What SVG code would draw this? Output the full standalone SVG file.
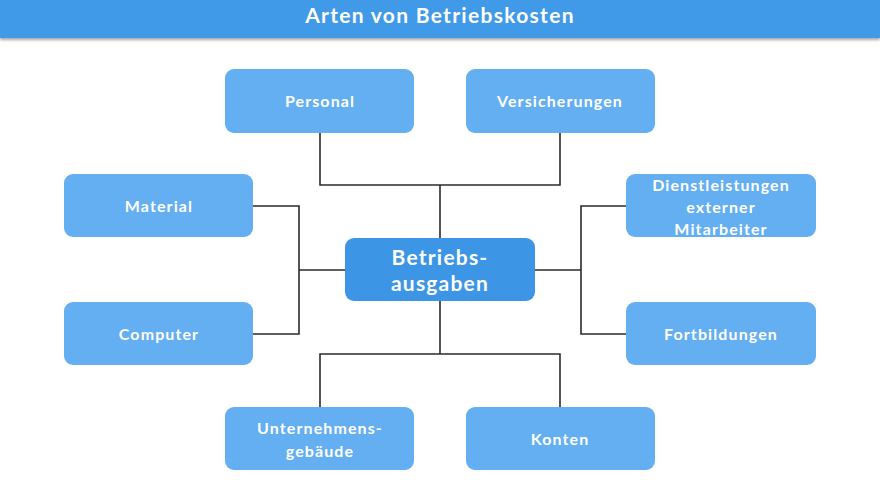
<svg xmlns="http://www.w3.org/2000/svg" width="880" height="480" viewBox="0 0 880 480">
<defs>
<style>
.node rect{fill:#64aef2}
.center rect{fill:#3d95e5}
.lbl{font-family:Lato,"Liberation Sans",sans-serif;font-weight:700;font-size:16px;fill:#ffffff;text-anchor:middle;letter-spacing:1.1px}
.clbl{font-size:21px;letter-spacing:1.2px}
.conn{fill:none;stroke:#2b2b2b;stroke-width:1.6}
.title{font-family:Lato,"Liberation Sans",sans-serif;font-weight:700;font-size:21px;fill:#ffffff;text-anchor:middle;letter-spacing:1.3px}
</style>
<filter id="sh" x="-5%" y="-50%" width="110%" height="200%">
<feDropShadow dx="0" dy="2" stdDeviation="1.5" flood-color="#000" flood-opacity="0.35"/>
</filter>
</defs>
<rect width="880" height="480" fill="#ffffff"/>
<g id="header">
<rect x="0" y="0" width="880" height="38" fill="#3f9ae8" filter="url(#sh)"/>
<text class="title" x="440" y="23">Arten von Betriebskosten</text>
</g>
<g id="connectors">
<path class="conn" d="M440 238 V185 M320 133 V185 H560 V133"/>
<path class="conn" d="M440 301 V354 M320 407 V354 H560 V407"/>
<path class="conn" d="M345 270 H299 M253 206 H299 V334 H253"/>
<path class="conn" d="M535 270 H581 M626 206 H581 V334 H626"/>
</g>
<g id="n-center" class="center">
<rect x="345" y="238" width="190" height="63" rx="9"/>
<text class="lbl clbl" x="440" y="265">Betriebs-</text>
<text class="lbl clbl" x="440" y="291">ausgaben</text>
</g>
<g id="n-personal" class="node">
<rect x="225" y="69" width="189" height="64" rx="9"/>
<text class="lbl" x="320" y="107">Personal</text>
</g>
<g id="n-versicherungen" class="node">
<rect x="466" y="69" width="189" height="64" rx="9"/>
<text class="lbl" x="560" y="107">Versicherungen</text>
</g>
<g id="n-material" class="node">
<rect x="64" y="174" width="189" height="63" rx="9"/>
<text class="lbl" x="159" y="212">Material</text>
</g>
<g id="n-computer" class="node">
<rect x="64" y="302" width="189" height="63" rx="9"/>
<text class="lbl" x="159" y="340">Computer</text>
</g>
<g id="n-dienstleistungen" class="node">
<rect x="626" y="174" width="190" height="63" rx="9"/>
<text class="lbl" x="721" y="191">Dienstleistungen</text>
<text class="lbl" x="721" y="213">externer</text>
<text class="lbl" x="721" y="235">Mitarbeiter</text>
</g>
<g id="n-fortbildungen" class="node">
<rect x="626" y="302" width="190" height="63" rx="9"/>
<text class="lbl" x="721" y="340">Fortbildungen</text>
</g>
<g id="n-unternehmensgebaeude" class="node">
<rect x="225" y="407" width="189" height="63" rx="9"/>
<text class="lbl" x="320" y="434">Unternehmens-</text>
<text class="lbl" x="320" y="457">gebäude</text>
</g>
<g id="n-konten" class="node">
<rect x="466" y="407" width="189" height="63" rx="9"/>
<text class="lbl" x="560" y="445">Konten</text>
</g>
</svg>
